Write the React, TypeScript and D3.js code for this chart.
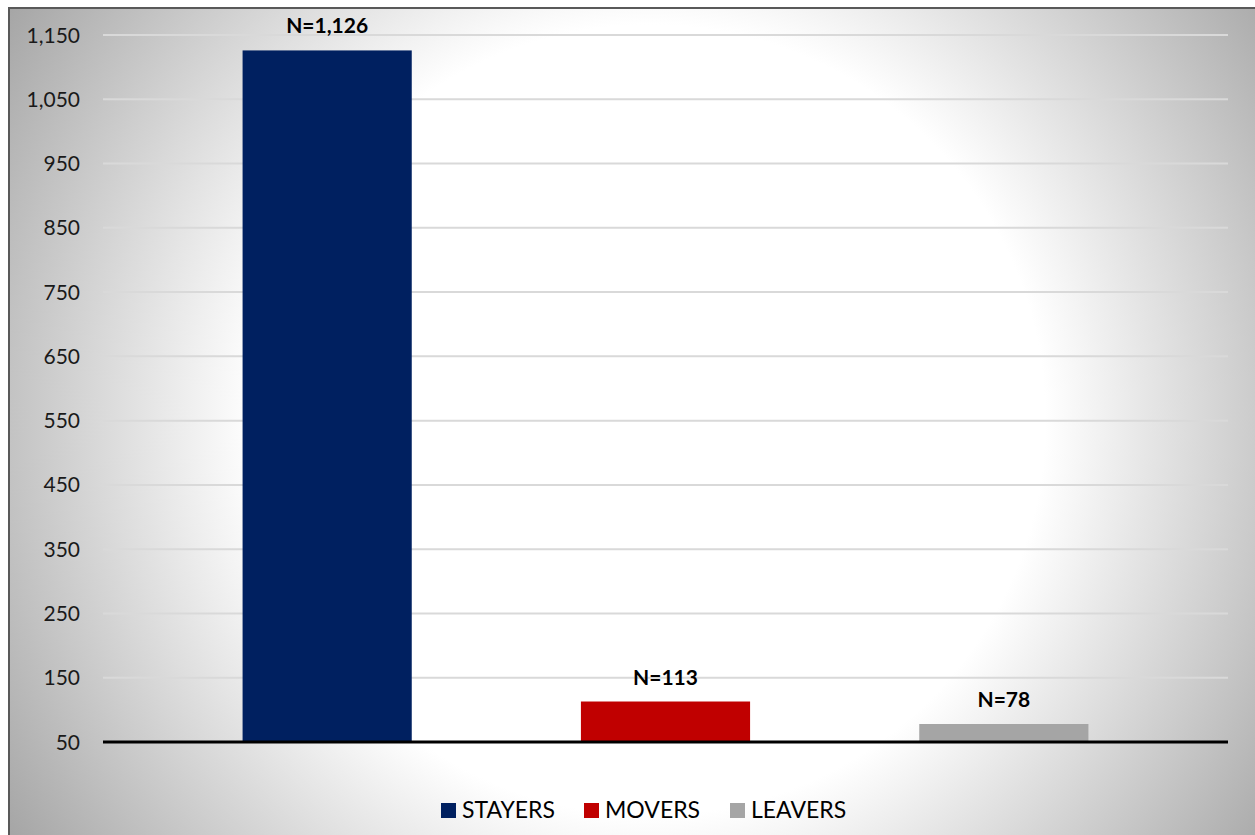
import React from "react";
import * as d3 from "d3";

const categories = ["STAYERS", "MOVERS", "LEAVERS"];
const values = [1126, 113, 78];
const labels = ["N=1,126", "N=113", "N=78"];
const colors = ["#002060", "#C00000", "#A5A5A5"];
const yTicks = [50, 150, 250, 350, 450, 550, 650, 750, 850, 950, 1050, 1150];

const W = 1255;
const H = 835;
const FONT = "Lato, 'Open Sans', sans-serif";

export default function App() {
  const plotLeft = 103;
  const plotRight = 1228;
  const y = d3.scaleLinear().domain([50, 1150]).range([742, 35]);
  const x = d3
    .scaleBand<string>()
    .domain(categories)
    .range([158, 1173])
    .paddingInner(0.5)
    .paddingOuter(0.25);
  const fmt = d3.format(",");

  const legendItems = [
    { name: categories[0], color: colors[0], x: 441 },
    { name: categories[1], color: colors[1], x: 584 },
    { name: categories[2], color: colors[2], x: 730 },
  ];

  return (
    <svg
      width={W}
      height={H}
      style={{ position: "absolute", left: 0, top: 0 }}
      xmlns="http://www.w3.org/2000/svg"
    >
      <defs>
        <radialGradient
          id="bg"
          gradientUnits="userSpaceOnUse"
          cx={650}
          cy={420}
          r={760}
          fx={650}
          fy={420}
        >
          <stop offset="0" stopColor="#ffffff" />
          <stop offset="0.52" stopColor="#ffffff" />
          <stop offset="1" stopColor="#a6a6a6" />
        </radialGradient>
      </defs>
      <rect x={0} y={0} width={W} height={H} fill="#ffffff" />
      <rect x={9} y={8} width={W} height={H} fill="url(#bg)" stroke="#595959" strokeWidth={2} />

      {yTicks.map((t) => (
        <g key={t}>
          {t !== 50 && (
            <line
              x1={plotLeft}
              x2={plotRight}
              y1={y(t)}
              y2={y(t)}
              stroke="#d9d9d9"
              strokeWidth={2}
            />
          )}
          <text
            x={80}
            y={y(t)}
            dy="0.36em"
            textAnchor="end"
            fontFamily={FONT}
            fontSize={21}
            fill="#1a1a1a"
          >
            {fmt(t)}
          </text>
        </g>
      ))}

      {categories.map((c, i) => (
        <g key={c}>
          <rect
            x={x(c)}
            y={y(values[i])}
            width={x.bandwidth()}
            height={y(50) - y(values[i])}
            fill={colors[i]}
          />
          <text
            x={(x(c) as number) + x.bandwidth() / 2}
            y={y(values[i]) - 17}
            textAnchor="middle"
            fontFamily={FONT}
            fontWeight="bold"
            fontSize={21}
            fill="#000"
          >
            {labels[i]}
          </text>
        </g>
      ))}

      <line x1={plotLeft} x2={plotRight} y1={y(50)} y2={y(50)} stroke="#000" strokeWidth={3} />

      {legendItems.map((l) => (
        <g key={l.name}>
          <rect x={l.x} y={803} width={15} height={15} fill={l.color} />
          <text x={l.x + 21} y={818} fontFamily={FONT} fontSize={23} fill="#000">
            {l.name}
          </text>
        </g>
      ))}
    </svg>
  );
}
